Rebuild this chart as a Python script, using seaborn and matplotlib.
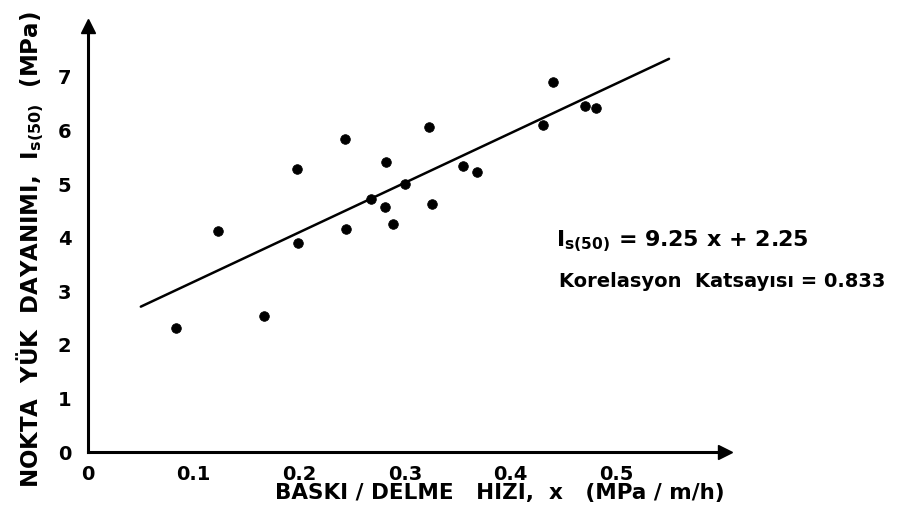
import numpy as np
import pandas as pd
import matplotlib
matplotlib.use('Agg')
import matplotlib.pyplot as plt
import seaborn as sns

# veri: baski / delme hizi (x) ve nokta yuk dayanimi Is(50)
baski_delme = [0.083, 0.123, 0.167, 0.198, 0.199, 0.243, 0.244, 0.268, 0.281, 0.282,
               0.289, 0.300, 0.323, 0.326, 0.355, 0.368, 0.431, 0.440, 0.470, 0.481]
is50 = [2.32, 4.12, 2.54, 5.29, 3.90, 5.84, 4.17, 4.73, 4.58, 5.42,
        4.25, 5.01, 6.07, 4.62, 5.34, 5.23, 6.10, 6.90, 6.46, 6.42]

# regresyon dogrusu
egim = 9.25
kesen = 2.25
dogru_x = np.array([0.05, 0.55])

x_ticks = [0, 0.1, 0.2, 0.3, 0.4, 0.5]
x_ticklabels = ['0', '0.1', '0.2', '0.3', '0.4', '0.5']
y_ticks = [0, 1, 2, 3, 4, 5, 6, 7]
y_ticklabels = ['0', '1', '2', '3', '4', '5', '6', '7']

sns.set_style('white')
plt.rcParams['font.family'] = ['DejaVu Sans']
plt.rcParams['font.weight'] = 'bold'
plt.rcParams['text.color'] = 'black'
plt.rcParams['axes.labelcolor'] = 'black'
plt.rcParams['xtick.color'] = 'black'
plt.rcParams['ytick.color'] = 'black'

df = pd.DataFrame({'x': baski_delme, 'y': is50})
line_df = pd.DataFrame({'x': dogru_x, 'y': egim * dogru_x + kesen})

fig = plt.figure(figsize=(9.09, 5.19), dpi=100)
W, H = 909, 519
ax = fig.add_axes([88 / W, (H - 452) / H, (725 - 88) / W, (452 - 26) / H])

sns.lineplot(data=line_df, x='x', y='y', color='black', lw=1.8, ax=ax)
sns.scatterplot(data=df, x='x', y='y', color='black', s=48, edgecolor='black', ax=ax, zorder=3)

ax.set_xlim(0, 0.603)
ax.set_ylim(0, 7.95)
ax.set_xticks(x_ticks)
ax.set_xticklabels(x_ticklabels)
ax.set_yticks(y_ticks)
ax.set_yticklabels(y_ticklabels)

for s in ['top', 'right']:
    ax.spines[s].set_visible(False)
for s in ['left', 'bottom']:
    ax.spines[s].set_linewidth(2.2)
    ax.spines[s].set_color('black')

ax.tick_params(axis='x', direction='in', length=7, width=1.5, pad=9, labelsize=14)
ax.tick_params(axis='y', direction='in', length=6, width=1.5, pad=12, labelsize=14)

# eksen oklari
ax.plot(1, 0, '>k', markersize=10, transform=ax.transAxes, clip_on=False)
ax.plot(0, 1, '^k', markersize=10, transform=ax.transAxes, clip_on=False)

ax.set_xlabel('BASKI / DELME   HIZI,  x   (MPa / m/h)', fontsize=15.5, fontweight='bold')
ax.xaxis.set_label_coords(0.647, -0.072)
ax.set_ylabel(r'NOKTA  YÜK  DAYANIMI,  I$_{\mathbf{s(50)}}$  (MPa)', fontsize=16.5, fontweight='bold')
ax.yaxis.set_label_coords(-0.066, 0.474)

ax.text(0.735, 0.495, r'I$_{\mathbf{s(50)}}$ = 9.25 x + 2.25', transform=ax.transAxes,
        fontsize=16, fontweight='bold', va='center', ha='left')
ax.text(0.74, 0.40, 'Korelasyon  Katsayısı = 0.833', transform=ax.transAxes,
        fontsize=14, fontweight='bold', va='center', ha='left')

fig.savefig('out.png', dpi=100)
